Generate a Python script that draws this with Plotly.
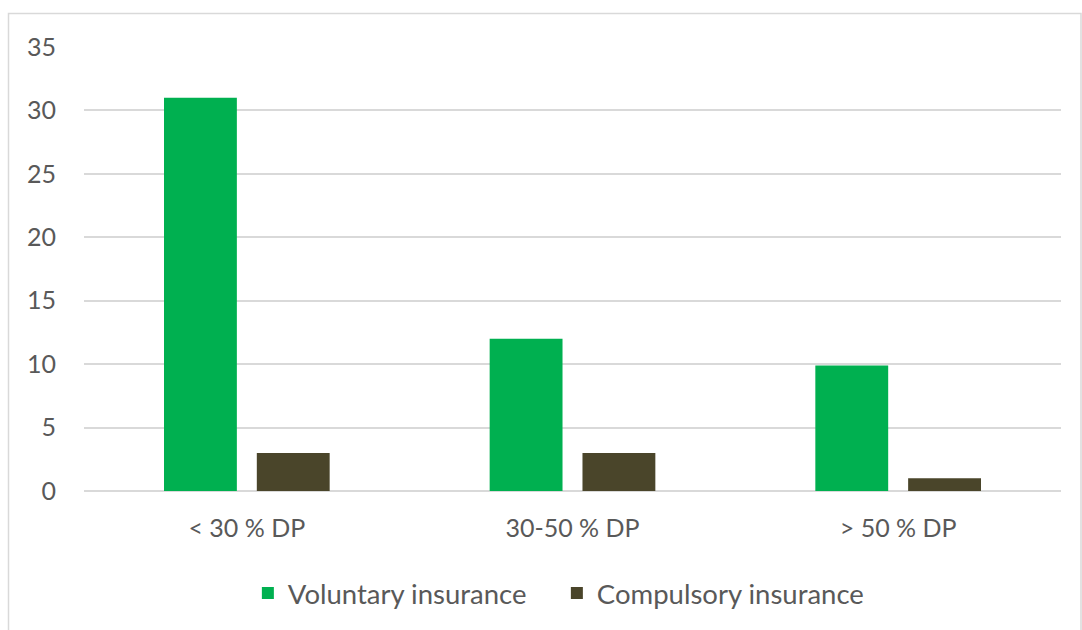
import plotly.graph_objects as go

categories = ["< 30 % DP", "30-50 % DP", "> 50 % DP"]
voluntary = [31, 12, 9.9]
compulsory = [3, 3, 1]
y_ticks = [0, 5, 10, 15, 20, 25, 30, 35]

W, H = 1082, 630
L, R, T, B = 84, 21, 47, 139
pw, ph = W - L - R, H - T - B

def px_x(x):
    return (x - L) / pw

def px_y(y):
    return (H - B - y) / ph

fig = go.Figure()
fig.add_trace(go.Bar(x=categories, y=voluntary, name="Voluntary insurance",
                     marker=dict(color="#00B050", line=dict(width=0))))
fig.add_trace(go.Bar(x=categories, y=compulsory, name="Compulsory insurance",
                     marker=dict(color="#4A452A", line=dict(width=0))))

fig.update_layout(
    width=W, height=H,
    margin=dict(l=L, r=R, t=T, b=B, pad=0),
    paper_bgcolor="white", plot_bgcolor="white",
    barmode="group", bargap=0.43, bargroupgap=0.215,
    font=dict(family="Lato, Carlito, Calibri, sans-serif", color="#595959", size=24),
    showlegend=True,
    legend=dict(orientation="h", x=0.484, xanchor="center", y=px_y(593), yanchor="middle",
                font=dict(size=27.5, color="#595959"), itemwidth=30,
                entrywidth=264, entrywidthmode="pixels",
                traceorder="normal"),
    xaxis=dict(showgrid=False, showline=False, ticks="", tickfont=dict(size=25),
               ticklabelstandoff=20),
    yaxis=dict(range=[0, 35], tickvals=y_ticks, showgrid=True, gridcolor="#d9d9d9",
               gridwidth=1.5, zeroline=True, zerolinecolor="#d9d9d9", zerolinewidth=1.5,
               showline=False, ticks="", tickfont=dict(size=25), ticklabelstandoff=27),
    shapes=[dict(type="rect", xref="paper", yref="paper",
                 x0=px_x(8.5), x1=px_x(1081), y0=px_y(640), y1=px_y(13.5),
                 line=dict(color="#d9d9d9", width=1.5), layer="below")],
)

fig.write_html("out.html", config={"displayModeBar": False},
               post_script="document.body.style.margin='0';document.body.style.overflow='hidden';")
